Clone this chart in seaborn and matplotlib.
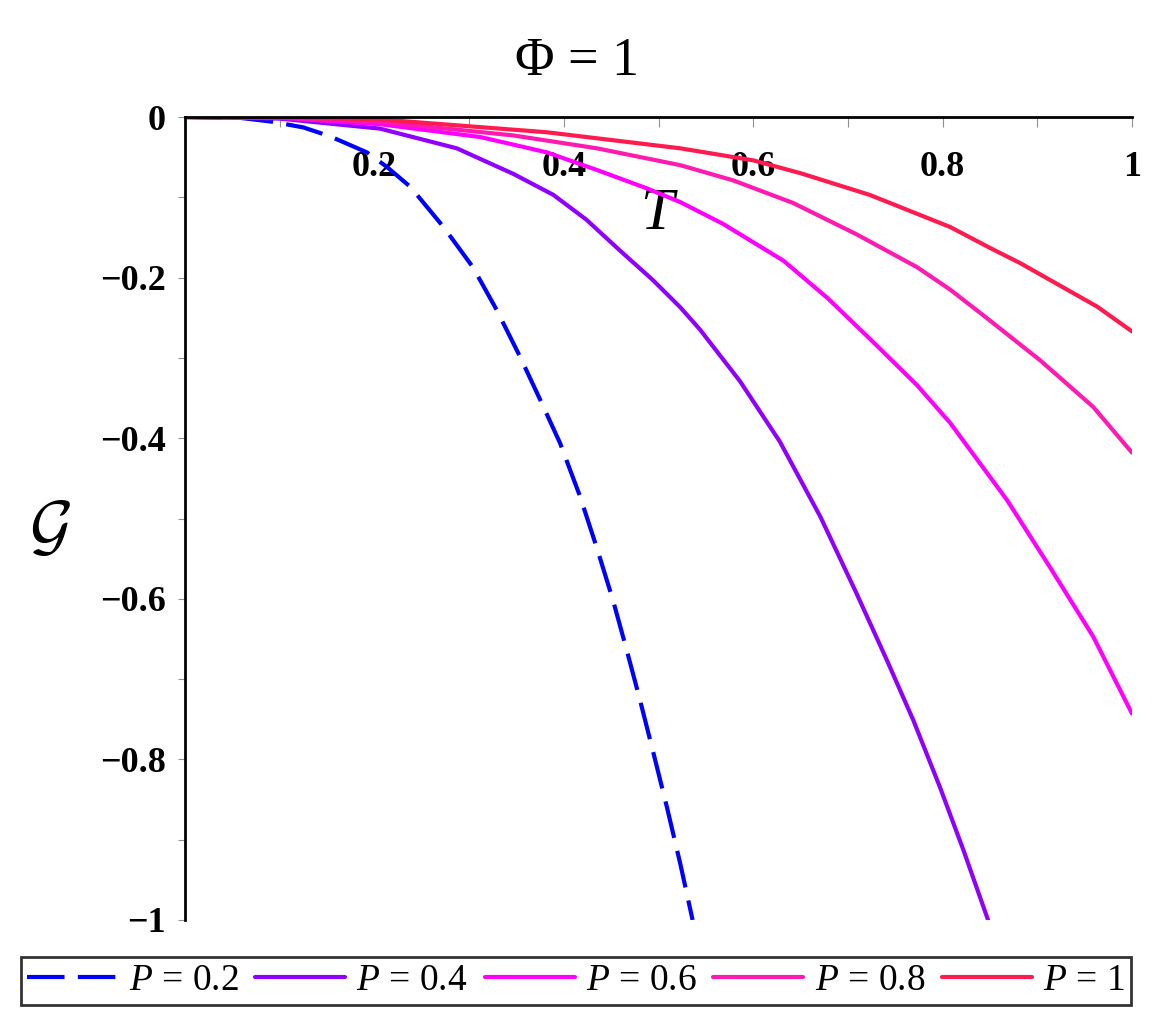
import numpy as np
import pandas as pd
import matplotlib
matplotlib.use("Agg")
import matplotlib.pyplot as plt
import seaborn as sns

# ---- data ----
T_p02 = [0, 0.058, 0.093, 0.125, 0.153, 0.192, 0.213, 0.238, 0.273, 0.304, 0.329,
         0.354, 0.375, 0.396, 0.417, 0.435, 0.452, 0.466, 0.480, 0.494, 0.509, 0.523, 0.536]
G_p02 = [0, -0.001, -0.006, -0.013, -0.024, -0.044, -0.062, -0.087, -0.137, -0.187, -0.240,
         -0.299, -0.352, -0.406, -0.472, -0.537, -0.602, -0.662, -0.724, -0.789, -0.860, -0.930, -1.0]

T_p04 = [0, 0.1, 0.206, 0.287, 0.347, 0.389, 0.424, 0.459, 0.494, 0.523, 0.544,
         0.586, 0.628, 0.671, 0.709, 0.741, 0.769, 0.797, 0.822, 0.848]
G_p04 = [0, -0.002, -0.0145, -0.039, -0.071, -0.097, -0.128, -0.166, -0.203, -0.237, -0.265,
         -0.329, -0.404, -0.498, -0.593, -0.676, -0.751, -0.834, -0.913, -1.0]

T_p06 = [0, 0.1, 0.206, 0.312, 0.382, 0.435, 0.488, 0.523, 0.568, 0.632, 0.678,
         0.723, 0.773, 0.808, 0.868, 0.913, 0.959, 1.0]
G_p06 = [0, -0.001, -0.009, -0.025, -0.044, -0.066, -0.089, -0.106, -0.133, -0.179, -0.225,
         -0.276, -0.334, -0.381, -0.477, -0.560, -0.647, -0.743]

T_p08 = [0, 0.1, 0.206, 0.347, 0.435, 0.523, 0.579, 0.642, 0.709, 0.773,
         0.808, 0.843, 0.903, 0.959, 1.0]
G_p08 = [0, -0.0005, -0.006, -0.023, -0.039, -0.060, -0.079, -0.107, -0.146, -0.187,
         -0.215, -0.247, -0.303, -0.361, -0.418]

T_p10 = [0, 0.1, 0.206, 0.382, 0.523, 0.6, 0.65, 0.723, 0.808, 0.850,
         0.882, 0.963, 1.0]
G_p10 = [0, -0.0005, -0.003, -0.019, -0.039, -0.054, -0.070, -0.097, -0.137, -0.163,
         -0.182, -0.236, -0.267]

series_labels = ["0.2", "0.4", "0.6", "0.8", "1"]
series_colors = ["#0000FF", "#8F00FF", "#FF00FF", "#FF1AB0", "#FF1A4F"]

x_ticks = [0.2, 0.4, 0.6, 0.8, 1.0]
x_ticklabels = ["0.2", "0.4", "0.6", "0.8", "1"]
y_ticks = [0, -0.2, -0.4, -0.6, -0.8, -1.0]
y_ticklabels = ["0", "\u22120.2", "\u22120.4", "\u22120.6", "\u22120.8", "\u22121"]

# ---- style ----
sns.set_style("white")
plt.rcParams["font.family"] = ["Liberation Serif", "DejaVu Serif"]
plt.rcParams["text.color"] = "black"
plt.rcParams["axes.labelcolor"] = "black"
plt.rcParams["xtick.labelcolor"] = "black"
plt.rcParams["ytick.labelcolor"] = "black"
plt.rcParams["mathtext.fontset"] = "custom"
plt.rcParams["mathtext.rm"] = "Liberation Serif"
plt.rcParams["mathtext.it"] = "Liberation Serif:italic"
plt.rcParams["mathtext.cal"] = "cmsy10"

W, H = 1157, 1032
fig = plt.figure(figsize=(W / 100, H / 100), dpi=100)
ax_l, ax_r, ax_t, ax_b = 185, 1132, 117, 920
ax = fig.add_axes([ax_l / W, 1 - ax_b / H, (ax_r - ax_l) / W, (ax_b - ax_t) / H])

all_T = [T_p02, T_p04, T_p06, T_p08, T_p10]
all_G = [G_p02, G_p04, G_p06, G_p08, G_p10]
for i, (tt, gg) in enumerate(zip(all_T, all_G)):
    df = pd.DataFrame({"T": tt, "G": gg})
    kws = dict(linewidth=3.0)
    if i == 0:
        kws["linestyle"] = (0, (9, 3.2))
    sns.lineplot(data=df, x="T", y="G", ax=ax, color=series_colors[i],
                 label=f"$P$ = {series_labels[i]}", sort=False, estimator=None, **kws)

ax.set_xlim(0, 1)
ax.set_ylim(-1, 0)

for s in ["right", "bottom"]:
    ax.spines[s].set_visible(False)
for s in ["top", "left"]:
    ax.spines[s].set_color("black")
    ax.spines[s].set_linewidth(2.0)

# x axis on top (at G = 0), labels drawn below the line
ax.xaxis.set_ticks_position("top")
ax.set_xticks(x_ticks)
ax.set_xticklabels(x_ticklabels)
ax.set_xticks([0.1, 0.3, 0.5, 0.7, 0.9], minor=True)
ax.tick_params(axis="x", which="both", direction="in", length=7, width=0.8,
               color="#909090", top=True, bottom=False, labeltop=True,
               labelbottom=False, pad=-48, labelsize=26, labelcolor="black")
for lab in ax.get_xticklabels():
    lab.set_fontweight("bold")

ax.set_yticks(y_ticks)
ax.set_yticklabels(y_ticklabels)
ax.set_yticks([-0.1, -0.3, -0.5, -0.7, -0.9], minor=True)
ax.tick_params(axis="y", which="both", direction="out", length=5, width=0.8,
               color="#909090", left=True, right=False, pad=9, labelsize=26,
               labelcolor="black")
for lab in ax.get_yticklabels():
    lab.set_fontweight("bold")

ax.set_xlabel("T", fontsize=43, fontstyle="italic", color="black")
ax.xaxis.set_label_coords((657 - ax_l) / (ax_r - ax_l), 1 - (215 - ax_t) / (ax_b - ax_t))
ax.xaxis.label.set_verticalalignment("center")
ax.xaxis.label.set_horizontalalignment("center")

ax.set_ylabel(r"$\mathcal{G}$", fontsize=48, rotation=0, color="black")
ax.yaxis.set_label_coords((50 - ax_l) / (ax_r - ax_l), 1 - (532 - ax_t) / (ax_b - ax_t))
ax.yaxis.label.set_verticalalignment("center")
ax.yaxis.label.set_horizontalalignment("center")

fig.text(577 / W, 1 - 62 / H, "\u03a6 = 1", fontsize=39, ha="center", va="center",
         color="black")

leg = ax.legend(loc="center", bbox_to_anchor=(576 / W, 1 - 981 / H),
                bbox_transform=fig.transFigure, ncol=5, fontsize=27,
                handlelength=2.4, handletextpad=0.3, columnspacing=0.45,
                frameon=True, fancybox=False, borderpad=0.18, borderaxespad=0)
leg.get_frame().set_edgecolor("black")
leg.get_frame().set_linewidth(2.0)
for t in leg.get_texts():
    t.set_color("black")
for l in leg.get_lines():
    l.set_linewidth(3.0)

fig.savefig("out.png", dpi=100)
